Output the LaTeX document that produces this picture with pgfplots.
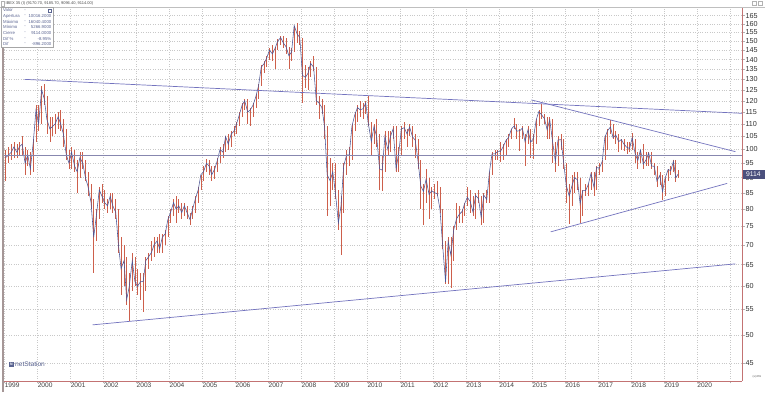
\documentclass[border=0pt]{standalone}
\usepackage{pgfplots}
\usepackage{pgfplotstable}
\pgfplotsset{compat=1.18}
\usepackage{fontspec}
\setmainfont{Liberation Sans}
\definecolor{candR}{RGB}{205,95,75}
\definecolor{candB}{RGB}{75,85,150}
\definecolor{trend}{RGB}{115,115,190}
\definecolor{hline}{RGB}{135,135,175}
\definecolor{frameR}{RGB}{195,115,115}
\definecolor{gridc}{RGB}{200,200,200}
\definecolor{boxc}{RGB}{75,80,125}
\definecolor{infoc}{RGB}{90,100,145}

\pgfplotstableread{
t cl hi lo
1999.04 97 100 89
1999.13 98 101 95
1999.21 99 102 96
1999.29 101 103 97
1999.38 99 102 97
1999.46 101 103 98
1999.54 102 105 98
1999.63 95 101 91
1999.71 98 100 94
1999.79 93 99 91
1999.88 103 104 92
1999.96 116 118 103
2000.04 110 118 107
2000.13 125 127 110
2000.21 121 128 118
2000.29 112 122 106
2000.38 108 113 103
2000.46 109 113 105
2000.54 110 114 106
2000.63 113 115 108
2000.71 110 116 107
2000.79 106 112 101
2000.88 98 108 96
2000.96 95 100 93
2001.04 99 101 93
2001.13 94 100 92
2001.21 92 96 85
2001.29 97 99 90
2001.38 95 99 93
2001.46 90 96 89
2001.54 87 92 84
2001.63 82 88 80
2001.71 72 83 63
2001.79 78 80 71
2001.88 86 87 77
2001.96 84 88 82
2002.04 82 86 80
2002.13 81 83 79
2002.21 84 85 80
2002.29 81 85 79
2002.38 79 83 77
2002.46 70 80 68
2002.54 64 72 58
2002.63 66 70 60
2002.71 57 67 56
2002.79 60 63 52.7
2002.88 66 68 59
2002.96 61 67 60
2003.04 60 64 58
2003.13 61 63 57
2003.21 61 63 54.5
2003.29 66 67 59
2003.38 67 68 64
2003.46 68 71 66
2003.54 70 72 67
2003.63 71 72 68
2003.71 69 73 68
2003.79 72 73 68
2003.88 73 74 70
2003.96 77 78 72
2004.04 79 80 76
2004.13 82 83 78
2004.21 80 84 76
2004.29 81 83 79
2004.38 79 82 77
2004.46 81 82 78
2004.54 79 81 77
2004.63 77 79 75.5
2004.71 80 81 77
2004.79 83 84 79
2004.88 86 87 82
2004.96 91 91 86
2005.04 92 94 89
2005.13 95 96.5 92
2005.21 94 96 91
2005.29 91 94 89
2005.38 93 94 89.5
2005.46 96 97 92
2005.54 100 101 95
2005.63 99 102 97
2005.71 105 105 99
2005.79 102 106 100
2005.88 106 107 101
2005.96 107 109 105
2006.04 110 111 106
2006.13 114 115 109
2006.21 118 119 113
2006.29 120 121 116
2006.38 115 121 110
2006.46 116 117 109
2006.54 118 119 113
2006.63 122 123 117
2006.71 127 128 121
2006.79 136 137 127
2006.88 138 139 133
2006.96 141 142 136
2007.04 145 146 140
2007.13 143 148 139
2007.21 146 147 135
2007.29 150 151 145
2007.38 152 153 148
2007.46 149 153 146
2007.54 147 152 143
2007.63 142 147 135
2007.71 144 146 139
2007.79 159 159 144
2007.88 154 160.4 149
2007.96 152 156 148
2008.04 132 152 119
2008.13 131 137 126
2008.21 133 136 125
2008.29 138 139 131
2008.38 136 142 134
2008.46 120 136 118
2008.54 119 122 112
2008.63 117 121 114
2008.71 109 118 104
2008.79 91 109 78
2008.88 89 97 81
2008.96 92 95 86
2009.04 85 95 83
2009.13 76 86 74
2009.21 81 84 67.5
2009.29 94 95 79
2009.38 98 100 91
2009.46 98 101 94
2009.54 109 110 96
2009.63 114 115 107
2009.71 117 118 111
2009.79 116 120 113
2009.88 116.5 119 112
2009.96 119 120 114
2010.04 110 122 109
2010.13 103 111 98
2010.21 109 110 102
2010.29 105 112 101
2010.38 93 106 86
2010.46 92.6 98 85.5
2010.54 105 107 92
2010.63 100 107 98
2010.71 105 107 99
2010.79 108 109 104
2010.88 93 109 92
2010.96 98.6 101 92
2011.04 108 109 98
2011.13 108.5 111 104
2011.21 106 108 101
2011.29 108.8 110 105
2011.38 104.8 109 101
2011.46 103.6 106 97
2011.54 96.3 104 93
2011.63 87.2 96 80
2011.71 85.5 88 75.5
2011.79 89.5 93 82
2011.88 84.5 90 77
2011.96 85.7 87 80
2012.04 85.1 88 83
2012.13 84.7 89 84
2012.21 80 87 79
2012.29 70.1 80 69
2012.38 60.9 71 60.5
2012.46 71 72 60.5
2012.54 67.4 72 59.5
2012.63 74.2 75 66
2012.71 77.1 82 74
2012.79 78.4 81 76
2012.88 79.3 80 76
2012.96 81.7 82 78
2013.04 83.6 87 81
2013.13 82.3 86 79
2013.21 79.2 84 78
2013.29 84.2 85 77
2013.38 83.2 86 82
2013.46 77.6 84 75.5
2013.54 84.3 85 76
2013.63 82.9 86 82
2013.71 91.9 92 82
2013.79 98.4 99 91
2013.88 98.4 100 96
2013.96 99.2 100 96
2014.04 99.2 103 95.5
2014.13 101.1 102 96
2014.21 103.4 104 98
2014.29 104.6 106 101
2014.38 108 108 104
2014.46 109.2 112.5 108
2014.54 107.1 110 104
2014.63 107.3 108 99.5
2014.71 108.3 109 104
2014.79 103 106 94
2014.88 107.7 109 102
2014.96 102.8 108 97
2015.04 104 106 96.5
2015.13 111.8 112 102
2015.21 115.2 116 109
2015.29 113.9 118.7 112
2015.38 112.2 114 110
2015.46 107.7 113 104
2015.54 111.8 113 104
2015.63 102.6 112 95
2015.71 95.6 103 92
2015.79 103.6 105 94
2015.88 103.8 106 100
2015.96 95.4 104 93
2016.04 87.5 95 82
2016.13 84 88 75.8
2016.21 87.2 91 81
2016.29 90 92 85
2016.38 89.3 92 86
2016.46 81.6 90 76
2016.54 85.7 86 78
2016.63 85.8 88 84
2016.71 87.8 88 84
2016.79 91.4 92 86
2016.88 86.9 92 84
2016.96 93.5 94 86
2017.04 93.2 95 91
2017.13 95.6 96 92
2017.21 104.6 105 96
2017.29 107.2 108 100
2017.38 108.8 111.8 106
2017.46 104.5 110 104
2017.54 105.6 107 102
2017.63 103 106 99
2017.71 103.8 104 100
2017.79 102 104 99.5
2017.88 100.8 103 98.5
2017.96 100.4 103 99
2018.04 104.5 106.4 100
2018.13 98.4 104 95
2018.21 96 99 93
2018.29 99.8 100 95
2018.38 94.7 102 93
2018.46 96.2 99 94
2018.54 98.7 99 94
2018.63 94 99 93
2018.71 93.9 95 91
2018.79 88.9 94 87
2018.88 90.8 92 87.5
2018.96 85.4 91 82.9
2019.04 89.9 90 84
2019.13 92.8 93 89
2019.21 92.4 94 91
2019.29 95.7 96.2 92
2019.36 90 96 88.5
2019.43 91.14 92.5 90
}\ibex

\begin{document}
\begin{tikzpicture}[x=1pt,y=1pt]
\useasboundingbox (0,0) rectangle (765,392);
\fill[white] (0,0) rectangle (765,392);
\begin{axis}[
  at={(4pt,11pt)}, anchor=south west, scale only axis,
  width=738pt, height=373pt,
  xmin=1998.99, xmax=2021.37,
  ymode=log, ymin=42.07, ymax=169.8,
  axis x line*=bottom, axis y line*=right,
  axis line style={frameR, line width=0.9pt},
  xtick={1999,2000,2001,2002,2003,2004,2005,2006,2007,2008,2009,2010,2011,2012,2013,2014,2015,2016,2017,2018,2019,2020,2021},
  xticklabels={1999,2000,2001,2002,2003,2004,2005,2006,2007,2008,2009,2010,2011,2012,2013,2014,2015,2016,2017,2018,2019,2020,{}},
  ytick={45,50,55,60,65,70,75,80,85,90,95,100,105,110,115,120,125,130,135,140,145,150,155,160,165},
  yticklabels={45,50,55,60,65,70,75,80,85,90,95,100,105,110,115,120,125,130,135,140,145,150,155,160,165},
  grid=major, major grid style={gridc, dotted, line width=0.45pt},
  tick align=outside, major tick length=2.5pt,
  tick style={gray!60, line width=0.5pt},
  xticklabel style={anchor=north west, font=\fontsize{6.6}{7}\selectfont, text=black!75, inner sep=0pt, xshift=0.3pt, yshift=1.2pt},
  yticklabel style={anchor=west, font=\fontsize{7.2}{8}\selectfont, text=black!80, inner sep=0.5pt, xshift=0.3pt},
]
\addplot[draw=none, mark=none, forget plot,
  error bars/.cd, y dir=both, y explicit, error mark=none,
  error bar style={candR, line width=0.65pt}]
  table[x=t, y=cl, y error plus expr=\thisrow{hi}-\thisrow{cl}, y error minus expr=\thisrow{cl}-\thisrow{lo}] {\ibex};
\addplot[candB, line width=0.55pt, mark=none] table[x=t, y=cl] {\ibex};
\addplot[trend, line width=0.7pt] coordinates {(1999.61,130) (2021.37,114.5)};
\addplot[trend, line width=0.7pt] coordinates {(2014.98,120.4) (2021.17,99.2)};
\addplot[hline, line width=0.8pt] coordinates {(1998.99,98) (2021.37,98)};
\addplot[trend, line width=0.7pt] coordinates {(2015.57,73.5) (2020.92,88.1)};
\addplot[trend, line width=0.7pt] coordinates {(2001.68,51.9) (2021.17,65.2)};
\end{axis}
% left border and header
\draw[line width=1.6pt, color={rgb,255:red,165;green,150;blue,150}] (3.2,0) -- (3.2,385);
\draw[gray!50, line width=0.5pt] (0,385) -- (765,385);
\draw[gray!60, line width=0.4pt] (1,386.2) rectangle (4.5,390.5);
\node[anchor=west, inner sep=0pt, font=\fontsize{4}{4}\selectfont, text=black!70] at (5.5,388.4) {IBEX 35 (I) (9170.70, 9185.70, 9096.40, 9114.00)};
\draw[gray!60, line width=0.4pt] (752,386.5) rectangle (756,390.5);
\draw[gray!60, line width=0.4pt] (758,386.5) rectangle (762,390.5);
% info box
\draw[gray!70, fill=white, line width=0.5pt] (1,345) rectangle (53,384.5);
\begin{scope}[every node/.style={inner sep=0pt, font=\fontsize{4.3}{4.5}\selectfont, text=infoc}]
\node[anchor=west] at (3,381.6) {Valor};
\node at (25,381.6) {-};
\draw[infoc, line width=0.3pt] (48.5,380) rectangle (51.5,383.2);
\node[anchor=west] at (3,375.9) {Apertura};
\node at (25,375.9) {-};
\node[anchor=east] at (51.5,375.9) {10016.2000};
\node[anchor=west] at (3,370.3) {Máximo};
\node at (25,370.3) {-};
\node[anchor=east] at (51.5,370.3) {16040.4000};
\node[anchor=west] at (3,364.7) {Mínimo};
\node at (25,364.7) {-};
\node[anchor=east] at (51.5,364.7) {5266.9000};
\node[anchor=west] at (3,358.8) {Cierre};
\node at (25,358.8) {-};
\node[anchor=east] at (51.5,358.8) {9114.0000};
\node[anchor=west] at (3,353.1) {Dif \%};
\node at (25,353.1) {-};
\node[anchor=east] at (51.5,353.1) {-8.95\%};
\node[anchor=west] at (3,347.7) {Dif};
\node at (25,347.7) {-};
\node[anchor=east] at (51.5,347.7) {-896.2000};
\end{scope}
% last price marker
\fill[boxc] (742.6,213.3) rectangle (764.6,221.6);
\node[inner sep=0pt, font=\fontsize{6.8}{7}\selectfont, text=white] at (753.4,217.4) {9114};
% netStation logo
\fill[infoc] (9,25.2) rectangle (14,30.2);
\node[inner sep=0pt, font=\fontsize{3.5}{4}\selectfont\bfseries, text=white] at (11.5,27.7) {N};
\node[anchor=west, inner sep=0pt, font=\fontsize{6.6}{7}\selectfont, text=infoc] at (15,27.7) {netStation};
\node[inner sep=0pt, font=\fontsize{2.8}{3}\selectfont, text=black!60] at (757,15) {(w)369};
\end{tikzpicture}
\end{document}
